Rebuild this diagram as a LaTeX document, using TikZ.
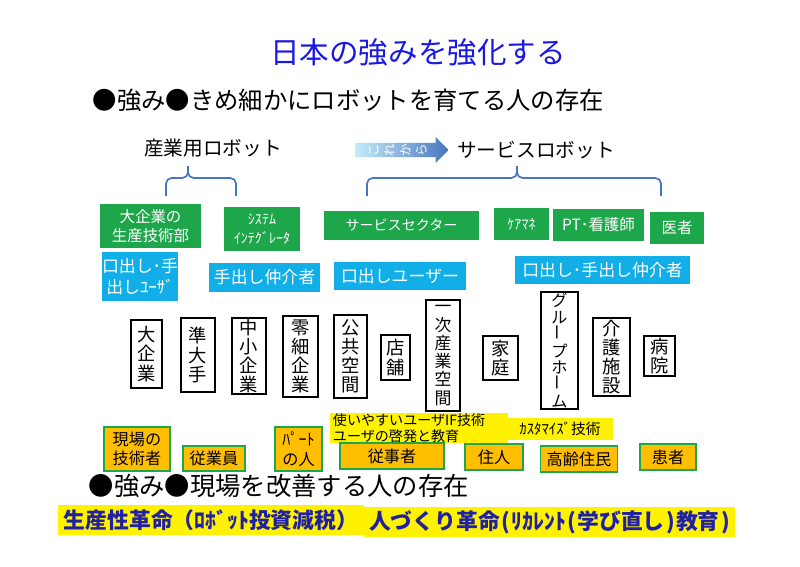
\documentclass[tikz,border=0pt]{standalone}
\usepackage{fontspec}
\setmainfont{Noto Sans CJK JP}
\usetikzlibrary{shapes.arrows}

\definecolor{titleblue}{RGB}{25,25,225}
\definecolor{revblue}{RGB}{32,32,165}
\definecolor{kgreen}{RGB}{30,166,74}
\definecolor{kcyan}{RGB}{18,174,232}
\definecolor{korange}{RGB}{255,190,0}
\definecolor{bracecol}{RGB}{72,118,190}

\begin{document}
\begin{tikzpicture}[x=0.025cm,y=-0.025cm,
	greenbox/.style={fill=kgreen,text=white,inner sep=0pt,align=center,font=\fontsize{11}{14}\selectfont},
	cyanbox/.style={fill=kcyan,text=white,inner sep=0pt,align=center,font=\fontsize{12}{15}\selectfont},
	placebox/.style={draw=black,line width=1.7pt,fill=white,inner sep=0pt,align=center,font=\fontsize{13}{13.6}\selectfont},
	peoplebox/.style={fill=korange,draw=kgreen,line width=1pt,inner sep=0pt,align=center,font=\fontsize{11.5}{14}\selectfont},
	notebox/.style={fill=yellow,inner sep=0pt,font=\fontsize{10}{11.5}\selectfont},
	revbox/.style={fill=yellow,inner sep=0pt,text=revblue,font=\bfseries\fontsize{15.5}{18}\selectfont},
	brace/.style={draw=bracecol,line width=1.2pt,rounded corners=4pt}]
	\useasboundingbox (0,0) rectangle (800,566);
	% headings
	\node[text=titleblue,font=\fontsize{21}{24}\selectfont] (title) at (418,52) {日本の強みを強化する};
	\node[font=\fontsize{17.3}{20}\selectfont,anchor=west] (strength1) at (88,100) {●強み●きめ細かにロボットを育てる人の存在};
	\node[font=\fontsize{14}{17}\selectfont] (indrobot) at (213,148) {産業用ロボット};
	\node[font=\fontsize{14}{17}\selectfont] (servrobot) at (536,150) {サービスロボット};
	\node[single arrow,minimum height=2.325cm,minimum width=0.65cm,single arrow head extend=0.14cm,inner sep=0pt,
		left color=kcyan!25,right color=bracecol,text=white,font=\fontsize{9}{9}\selectfont] (fromnow) at (398.5,150)
		{\rotatebox{90}{こ}\hspace{4pt}\rotatebox{90}{れ}\hspace{4pt}\rotatebox{90}{か}\hspace{4pt}\rotatebox{90}{ら}\hspace{10pt}};
	% braces
	\draw[brace] (166,196) -- (166,178) -- (188,178) -- (188,166);
	\draw[brace] (188,166) -- (188,178) -- (236,178) -- (236,196);
	\draw[brace] (367,196) -- (367,178) -- (517,178) -- (517,166);
	\draw[brace] (517,166) -- (517,178) -- (661,178) -- (661,196);
	% green row
	\node[greenbox,minimum width=2.525cm,minimum height=1.1cm] (largeprod) at (150.5,226) {大企業の\\生産技術部};
	\node[greenbox,minimum width=1.9cm,minimum height=1.1cm,font=\fontsize{10}{14}\selectfont] (sysint) at (262,229) {ｼｽﾃﾑ\\ｲﾝﾃｸﾞﾚｰﾀ};
	\node[greenbox,minimum width=3.875cm,minimum height=0.725cm,font=\fontsize{10}{12}\selectfont] (sector) at (401.5,225.5) {サービスセクター};
	\node[greenbox,minimum width=1.375cm,minimum height=0.8cm,font=\fontsize{10}{12}\selectfont] (caremgr) at (521.5,224) {ｹｱﾏﾈ};
	\node[greenbox,minimum width=2.275cm,minimum height=0.8cm] (nurse) at (598.5,225) {PT･看護師};
	\node[greenbox,minimum width=1.35cm,minimum height=0.8cm] (doctor) at (677,228) {医者};
	% cyan row
	\node[cyanbox,minimum width=1.9cm,minimum height=1.225cm] (biguser) at (140,276.5) {口出し･手\\出しﾕｰｻﾞ};
	\node[cyanbox,minimum width=2.775cm,minimum height=0.725cm] (handmed) at (264.5,277.5) {手出し仲介者};
	\node[cyanbox,minimum width=3.3cm,minimum height=0.7cm] (talkuser) at (400,276) {口出しユーザー};
	\node[cyanbox,minimum width=4.375cm,minimum height=0.7cm] (bothmed) at (602.5,270) {口出し･手出し仲介者};
	% places
	\node[placebox,minimum width=0.775cm,minimum height=1.7cm] (large) at (146.5,354) {大\\企\\業};
	\node[placebox,minimum width=0.85cm,minimum height=1.85cm] (semilarge) at (198,355) {準\\大\\手};
	\node[placebox,minimum width=0.85cm,minimum height=1.9cm] (smallmid) at (249,356) {中\\小\\企\\業};
	\node[placebox,minimum width=0.875cm,minimum height=2.025cm] (micro) at (300.5,356.5) {零\\細\\企\\業};
	\node[placebox,minimum width=0.825cm,minimum height=2.075cm] (public) at (350.5,356.5) {公\\共\\空\\間};
	\node[placebox,minimum width=0.725cm,minimum height=1.125cm] (shop) at (395.5,357.5) {店\\舗};
	\node[placebox,minimum width=0.85cm,minimum height=2.775cm,font=\fontsize{12}{13}\selectfont] (primary) at (443,355.5) {一\\次\\産\\業\\空\\間};
	\node[placebox,minimum width=0.875cm,minimum height=1.1cm] (home) at (500.5,358) {家\\庭};
	\node[placebox,minimum width=0.925cm,minimum height=2.925cm,font=\fontsize{11.5}{11.9}\selectfont] (grouphome) at (559.5,350.5) {グ\\ル\\\rotatebox{90}{ー}\\プ\\ホ\\\rotatebox{90}{ー}\\ム};
	\node[placebox,minimum width=0.925cm,minimum height=1.95cm] (carehome) at (611.5,357) {介\\護\\施\\設};
	\node[placebox,minimum width=0.775cm,minimum height=1.0cm] (hospital) at (659.5,356) {病\\院};
	% yellow notes
	\node[notebox,minimum width=4.45cm,minimum height=0.7cm,align=left,text width=4.3cm] (usetech) at (419,428) {使いやすいユーザIF技術\\ユーザの啓発と教育};
	\node[notebox,minimum width=2.65cm,minimum height=0.55cm,font=\fontsize{10.5}{12}\selectfont] (custom) at (560,429) {ｶｽﾀﾏｲｽﾞ技術};
	% people
	\node[peoplebox,minimum width=1.65cm,minimum height=1.1cm] (engineer) at (137,449) {現場の\\技術者};
	\node[peoplebox,minimum width=1.55cm,minimum height=0.625cm] (employee) at (214,458.5) {従業員};
	\node[peoplebox,minimum width=1.175cm,minimum height=1.1cm] (parttime) at (298.5,449) {ﾊﾟｰﾄ\\の人};
	\node[peoplebox,minimum width=2.6cm,minimum height=0.65cm] (worker) at (392,456) {従事者};
	\node[peoplebox,minimum width=1.45cm,minimum height=0.65cm] (resident) at (494,457) {住人};
	\node[peoplebox,minimum width=1.925cm,minimum height=0.65cm] (elderly) at (579,459) {高齢住民};
	\node[peoplebox,minimum width=1.4cm,minimum height=0.65cm] (patient) at (668,457) {患者};
	% bottom
	\node[font=\fontsize{18}{21}\selectfont,anchor=west] (strength2) at (84,486) {●強み●現場を改善する人の存在};
	\node[revbox,minimum width=7.65cm,minimum height=0.75cm] (prodrev) at (211,520) {生産性革命（ﾛﾎﾞｯﾄ投資減税）};
	\node[revbox,minimum width=9.275cm,minimum height=0.75cm] (humrev) at (549.5,522) {人づくり革命\hspace{1pt}(\hspace{1pt}ﾘｶﾚﾝﾄ\hspace{1pt}(\hspace{1pt}学び直し\hspace{1pt})\hspace{1pt}教育\hspace{1pt})};
\end{tikzpicture}
\end{document}
